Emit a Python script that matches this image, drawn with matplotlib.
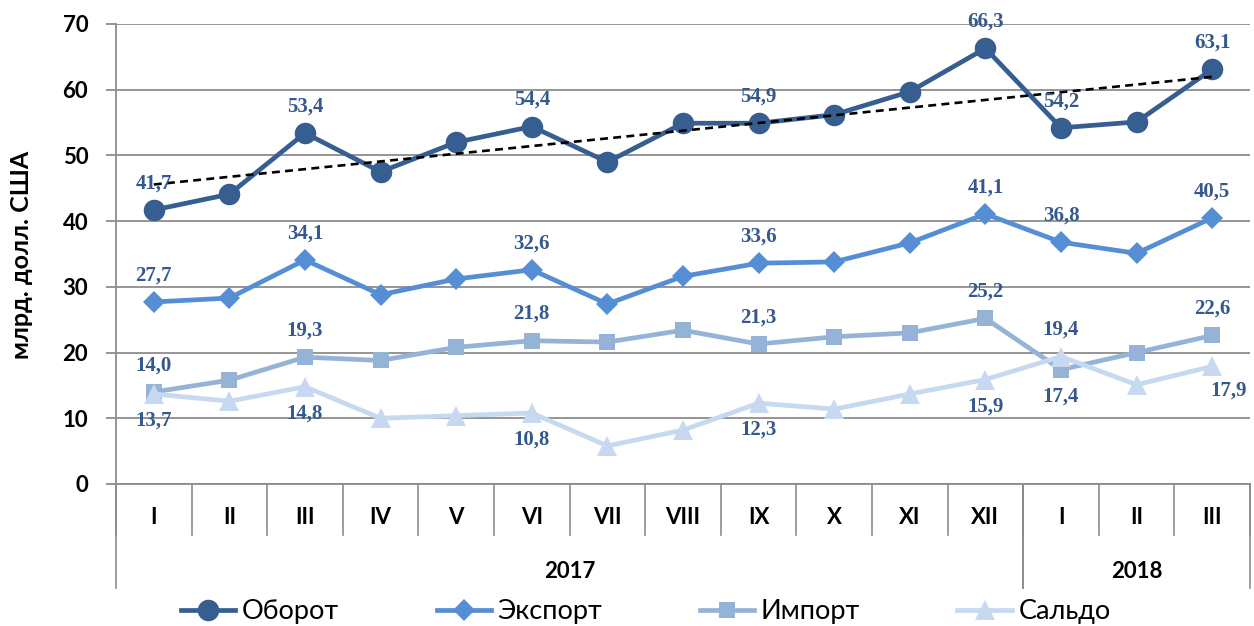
import numpy as np
import matplotlib
matplotlib.use("Agg")
import matplotlib.pyplot as plt
from matplotlib.transforms import blended_transform_factory

months = ["I", "II", "III", "IV", "V", "VI", "VII", "VIII", "IX", "X", "XI", "XII", "I", "II", "III"]
years = ["2017", "2018"]
year_spans = [(0, 12), (12, 15)]

oborot = [41.7, 44.1, 53.4, 47.5, 52.0, 54.4, 49.0, 54.9, 54.9, 56.2, 59.7, 66.3, 54.2, 55.1, 63.1]
eksport = [27.7, 28.3, 34.1, 28.8, 31.2, 32.6, 27.4, 31.6, 33.6, 33.8, 36.7, 41.1, 36.8, 35.1, 40.5]
import_ = [14.0, 15.8, 19.3, 18.8, 20.8, 21.8, 21.6, 23.4, 21.3, 22.4, 23.0, 25.2, 17.4, 20.0, 22.6]
saldo = [13.7, 12.6, 14.8, 10.0, 10.4, 10.8, 5.8, 8.2, 12.3, 11.4, 13.7, 15.9, 19.4, 15.1, 17.9]

# labelled points: index -> position ('a' above, 'b' below, 'r' below-right)
lab_oborot = {0: "a", 2: "a", 5: "a", 8: "a", 11: "a", 12: "a", 14: "a"}
lab_eksport = {0: "a", 2: "a", 5: "a", 8: "a", 11: "a", 12: "a", 14: "a"}
lab_import = {0: "a", 2: "a", 5: "a", 8: "a", 11: "a", 12: "b", 14: "a"}
lab_saldo = {0: "b", 2: "b", 5: "b", 8: "b", 11: "b", 12: "a", 14: "r"}

names = ["Оборот", "Экспорт", "Импорт", "Сальдо"]
colors = ["#375E91", "#558ED5", "#95B3D7", "#C6D9F1"]
label_color = "#35598C"

fig = plt.figure(figsize=(12.54, 6.26), dpi=100)
ax = fig.add_axes([116 / 1254, 1 - 484 / 626, (1250 - 116) / 1254, 460 / 626])

x = np.arange(len(months))
series = [oborot, eksport, import_, saldo]
markers = ["o", "D", "s", "^"]
msizes = [15.5, 11.5, 12, 14]
labs = [lab_oborot, lab_eksport, lab_import, lab_saldo]

handles = []
for s, c, m, ms, n in zip(series, colors, markers, msizes, names):
    h, = ax.plot(x, s, color=c, lw=3.4, marker=m, markersize=ms,
                 markeredgewidth=0, label=n, zorder=3, clip_on=False)
    handles.append(h)

# linear trend for Оборот
k, b = np.polyfit(x, oborot, 1)
ax.plot([x[0], x[-1]], [k * x[0] + b, k * x[-1] + b], color="black", lw=1.9,
        ls=(0, (3, 2)), zorder=4)

# data labels
for s, ld in zip(series, labs):
    for i, pos in ld.items():
        txt = f"{s[i]:.1f}".replace(".", ",")
        if pos == "a":
            dx, dy, va = 0, 12, "bottom"
        elif pos == "b":
            dx, dy, va = 0, -12, "top"
        else:
            dx, dy, va = 12, -10, "top"
        ax.annotate(txt, (x[i], s[i]), xytext=(dx, dy), textcoords="offset points",
                    ha="center", va=va, color=label_color, fontsize=15,
                    fontweight="bold", family="Liberation Serif", zorder=5,
                    annotation_clip=False)

ax.set_xlim(-0.5, len(months) - 0.5)
ax.set_ylim(0, 70)
ax.set_yticks(np.arange(0, 71, 10))
ax.yaxis.grid(True, color="#8C8C8C", lw=1.3)
ax.set_axisbelow(True)
for sp in ["top", "right"]:
    ax.spines[sp].set_visible(False)
for sp in ["left", "bottom"]:
    ax.spines[sp].set_color("#8C8C8C")
    ax.spines[sp].set_linewidth(1.3)
ax.tick_params(axis="y", length=7, width=1.3, color="#8C8C8C", pad=13,
               labelsize=16, labelcolor="black")
for t in ax.get_yticklabels():
    t.set_fontweight("bold")
    t.set_family("Lato")
ax.set_xticks([])

tr = blended_transform_factory(ax.transData, ax.transAxes)
month_bottom = -51 / 460
year_bottom = -104 / 460
for bnd in range(len(months) + 1):
    ax.plot([bnd - 0.5, bnd - 0.5], [0, month_bottom], transform=tr, color="#8C8C8C",
            lw=1.2, clip_on=False)
for i, mname in enumerate(months):
    ax.text(i, -34 / 460, mname, transform=tr, ha="center", va="center",
            fontsize=16, fontweight="bold", family="Lato")
for (a, bb), yname in zip(year_spans, years):
    for bnd in (a, bb):
        ax.plot([bnd - 0.5, bnd - 0.5], [0, year_bottom], transform=tr, color="#8C8C8C",
                lw=1.2, clip_on=False)
    ax.text((a + bb - 1) / 2, -88 / 460, yname, transform=tr, ha="center", va="center",
            fontsize=16, fontweight="bold", family="Lato")

fig.text(22 / 1254, 1 - 255 / 626, "млрд. долл. США", rotation=90, ha="center",
         va="center", fontsize=18, fontweight="bold", family="Lato")

fig.legend(handles=handles, loc="center", bbox_to_anchor=(0.515, 1 - 612 / 626),
           ncol=4, frameon=False, prop={"family": "Lato", "size": 19.5},
           handlelength=2.0, columnspacing=3.6, handletextpad=0.25, borderpad=0)

fig.savefig("out.png", dpi=100)
